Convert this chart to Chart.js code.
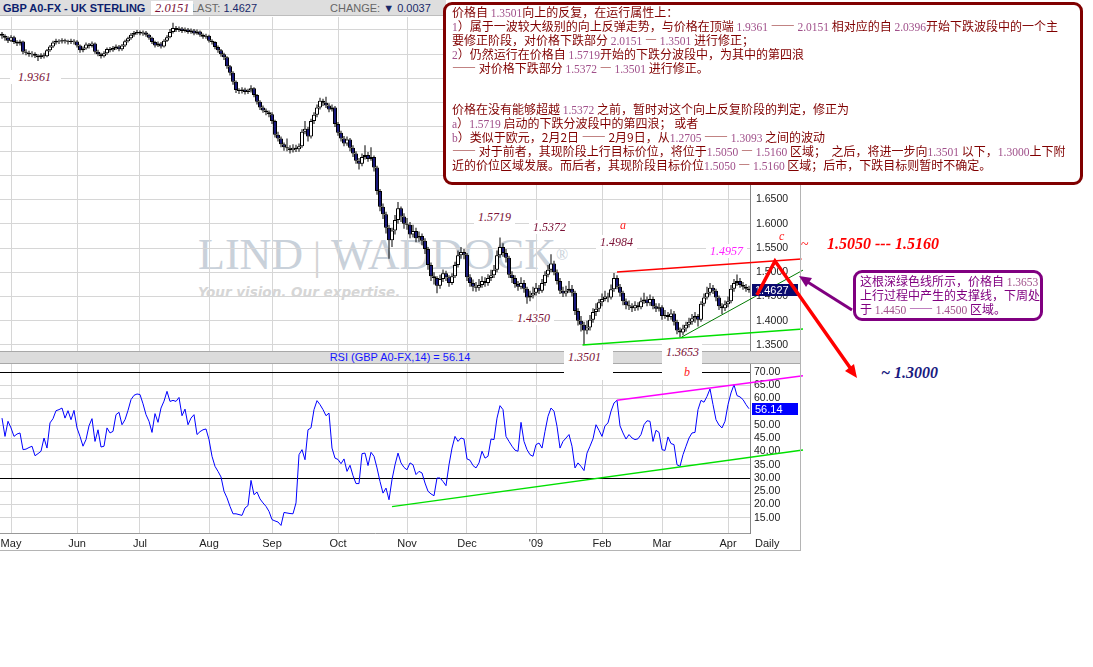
<!DOCTYPE html>
<html lang="zh">
<head>
<meta charset="utf-8">
<title>GBP A0-FX - UK STERLING</title>
<script src="https://cdn.jsdelivr.net/npm/chart.js@4.4.1/dist/chart.umd.min.js"></script>
<style>
  html, body { margin: 0; padding: 0; background: #fff; }
  body { width: 1093px; height: 667px; position: relative; overflow: hidden; font-family: "Liberation Sans", Arial, sans-serif; }
  .abs { position: absolute; }
  .lbl { position: absolute; font: italic 12px "Liberation Serif", "Times New Roman", serif; color: #7b1136; background: #fff; line-height: 14px; padding: 0 4px; white-space: nowrap; }
  .note { position: absolute; box-sizing: border-box; background: #fff; font: 12px "Noto Sans CJK SC", sans-serif; white-space: nowrap; }
  .note div { height: 13.9px; line-height: 13.9px; overflow: visible; }
  .n { font-family: "Liberation Serif", "Times New Roman", serif; font-size: 11.5px; color: #a0508a; }
</style>
</head>
<body>

<!-- watermark, behind the charts -->
<div class="abs" style="left:198px;top:233px;font:44px 'Liberation Serif',serif;line-height:44px;color:#c9d1da;white-space:nowrap">LIND<span style="color:#d4d4d4;font-size:40px"> | </span>WADDOCK<span style="font-size:16px;vertical-align:top">&reg;</span></div>
<div class="abs" style="left:198px;top:284px;font:italic bold 13.5px 'DejaVu Sans',sans-serif;color:#d6d6d6;white-space:nowrap">Your vision. Our expertise.</div>

<div class="abs" style="left:0;top:17px;width:810px;height:334px"><canvas id="price"></canvas></div>

<div class="abs" style="left:0;top:351px;width:800px;height:11px;background:#dcdcdc;border-top:1px solid #a8a8a8;border-bottom:1px solid #a8a8a8;font:11px 'Liberation Sans',Arial;line-height:11px;color:#1414ff;text-align:center">RSI (GBP A0-FX,14) = 56.14</div>

<div class="abs" style="left:0;top:364px;width:810px;height:186px"><canvas id="rsi"></canvas></div>

<div class="abs" style="left:800px;top:17px;width:1px;height:533px;background:#b4b4b4"></div>
<div class="abs" style="left:0;top:550px;width:801px;height:1px;background:#b4b4b4"></div>
<div class="abs" style="left:755px;top:537px;font:11px 'Liberation Sans',Arial;color:#222">Daily</div>

<!-- header -->
<div class="abs" style="left:0;top:0;width:446px;height:15px;background:#dedede;border-bottom:1px solid #bdbdbd"></div>
<div class="abs" style="left:3px;top:1px;font:bold 11px 'Liberation Sans',Arial;line-height:14px;color:#0c1f6e;white-space:nowrap">GBP A0-FX - UK STERLING</div>
<div class="abs" style="left:191px;top:2px;font:11px 'Liberation Sans',Arial;line-height:13px;white-space:nowrap"><span style="color:#666">LAST:</span> <span style="color:#1a2a6a">1.4627</span></div>
<div class="abs" style="left:330px;top:2px;font:11px 'Liberation Sans',Arial;line-height:13px;white-space:nowrap"><span style="color:#666">CHANGE:</span> <span style="color:#1a2a6a">&#9660; 0.0037</span></div>
<div class="lbl" style="left:151px;top:1px;font-size:12.5px">2.0151</div>

<!-- price labels -->
<div class="lbl" style="left:10px;top:70px;padding:0 10px 0 8px">1.9361</div>
<div class="lbl" style="left:474px;top:210px">1.5719</div>
<div class="lbl" style="left:529px;top:220px">1.5372</div>
<div class="lbl" style="left:596px;top:235px">1.4984</div>
<div class="lbl" style="left:706px;top:244px;color:#ff22ff">1.4957</div>
<div class="lbl" style="left:513px;top:311px">1.4350</div>
<div class="lbl" style="left:564px;top:350px;width:41px;height:30px">1.3501</div>
<div class="lbl" style="left:662px;top:340px;width:32px;height:35px;padding-top:5px">1.3653</div>
<div class="lbl" style="left:680px;top:365px;color:#ff2020;background:transparent">b</div>
<div class="lbl" style="left:616px;top:218px;color:#ff2020;background:transparent">a</div>
<div class="lbl" style="left:775px;top:229px;color:#ff2020;background:transparent">c</div>

<div class="abs" style="left:801px;top:237px;font:14px 'Liberation Serif',serif;color:#ff0000">~</div>
<div class="abs" style="left:827px;top:235px;font:italic bold 16px 'Liberation Serif',serif;color:#ff0000;white-space:nowrap">1.5050 --- 1.5160</div>
<div class="abs" style="left:881px;top:364px;font:italic bold 16px 'Liberation Serif',serif;color:#1a1a80;white-space:nowrap">~ 1.3000</div>

<!-- arrows -->
<svg class="abs" style="left:0;top:0" width="1093" height="667">
  <polyline points="757,295 775,261 851,369" fill="none" stroke="#ff0000" stroke-width="3.5" stroke-linejoin="miter"/>
  <polygon points="857,378 845,371 854,364" fill="#ff0000"/>
  <line x1="852" y1="310" x2="806" y2="281" stroke="#800080" stroke-width="3"/>
  <polygon points="799,276 812,278 806,287" fill="#800080"/>
</svg>

<!-- notes -->
<div class="note" style="left:443px;top:2px;width:640px;height:183px;border:3px solid #800000;border-radius:9px;padding-left:6px;color:#800000">
<div>价格自 <span class="n">1.3501</span>向上的反复，在运行属性上：</div>
<div><span class="n">1</span>）属于一波较大级别的向上反弹走势，与价格在顶端 <span class="n">1.9361</span> —— <span class="n">2.0151</span> 相对应的自 <span class="n">2.0396</span>开始下跌波段中的一个主</div>
<div>要修正阶段，对价格下跌部分 <span class="n">2.0151</span> — <span class="n">1.3501</span> 进行修正；</div>
<div><span class="n">2</span>）仍然运行在价格自 <span class="n">1.5719</span>开始的下跌分波段中，为其中的第四浪</div>
<div>—— 对价格下跌部分 <span class="n">1.5372</span> — <span class="n">1.3501</span> 进行修正。</div>
<div></div>
<div></div>
<div>价格在没有能够超越 <span class="n">1.5372</span> 之前，暂时对这个向上反复阶段的判定，修正为</div>
<div><span class="n">a</span>）<span class="n">1.5719</span> 启动的下跌分波段中的第四浪；&nbsp;或者</div>
<div><span class="n">b</span>）类似于欧元，2月2日 —— 2月9日，从<span class="n">1.2705</span> —— <span class="n">1.3093</span> 之间的波动</div>
<div>—— 对于前者，其现阶段上行目标价位，将位于<span class="n">1.5050</span> — <span class="n">1.5160</span> 区域；&nbsp;&nbsp;之后，将进一步向<span class="n">1.3501</span> 以下，<span class="n">1.3000</span>上下附</div>
<div>近的价位区域发展。而后者，其现阶段目标价位<span class="n">1.5050</span> — <span class="n">1.5160</span> 区域；后市，下跌目标则暂时不确定。</div>
</div>

<div class="note" style="left:853px;top:270px;width:190px;height:51px;border:3px solid #800080;border-radius:9px;padding:1px 0 0 4px;color:#800080">
<div style="height:14px;line-height:14px">这根深绿色线所示，价格自 <span class="n">1.3653</span></div>
<div style="height:14px;line-height:14px">上行过程中产生的支撑线，下周处</div>
<div style="height:14px;line-height:14px">于 <span class="n">1.4450</span> —— <span class="n">1.4500</span> 区域。</div>
</div>

<script>
// trading-day index of the first bar of each month
const monthIdx = [3, 25, 46, 69, 90, 112, 135, 155, 178, 200, 220, 242];
const monthNames = ["May", "Jun", "Jul", "Aug", "Sep", "Oct", "Nov", "Dec", "'09", "Feb", "Mar", "Apr"];
const priceTicks = [1.35, 1.40, 1.45, 1.50, 1.55, 1.60, 1.65, 1.70, 1.75, 1.80, 1.85, 1.90, 1.95, 2.00];
const rsiTicks = [15, 20, 25, 30, 35, 40, 45, 50, 55, 60, 65, 70];

const opens = [
  1.992,1.988,1.984,1.978,1.985,1.975,1.972,1.976,1.955,1.953,
  1.950,1.951,1.947,1.944,1.948,1.946,1.958,1.966,1.974,1.978,
  1.976,1.979,1.977,1.975,1.978,1.976,1.968,1.958,1.962,1.970,
  1.967,1.972,1.955,1.950,1.946,1.952,1.961,1.958,1.963,1.966,
  1.960,1.968,1.977,1.983,1.990,1.994,1.996,1.993,1.995,1.990,
  1.984,1.975,1.968,1.972,1.966,1.978,1.985,1.996,2.004,2.000,
  2.003,1.998,2.001,1.996,1.999,1.993,1.997,1.990,1.986,1.988,
  1.978,1.975,1.965,1.958,1.950,1.944,1.925,1.912,1.893,1.876,
  1.874,1.877,1.872,1.875,1.880,1.866,1.852,1.840,1.834,1.830,
  1.826,1.812,1.784,1.776,1.764,1.758,1.756,1.752,1.757,1.754,
  1.760,1.790,1.796,1.780,1.812,1.825,1.840,1.854,1.850,1.844,
  1.836,1.840,1.806,1.788,1.776,1.766,1.774,1.757,1.745,1.730,
  1.724,1.738,1.742,1.734,1.738,1.716,1.668,1.635,1.620,1.592,
  1.566,1.586,1.608,1.632,1.615,1.600,1.598,1.578,1.585,1.570,
  1.575,1.565,1.548,1.515,1.492,1.488,1.472,1.486,1.498,1.490,
  1.478,1.492,1.515,1.535,1.542,1.536,1.490,1.478,1.470,1.468,
  1.474,1.482,1.478,1.488,1.494,1.505,1.535,1.552,1.540,1.530,
  1.495,1.488,1.476,1.470,1.478,1.466,1.448,1.452,1.458,1.468,
  1.462,1.478,1.495,1.505,1.518,1.500,1.482,1.462,1.456,1.462,
  1.466,1.458,1.420,1.400,1.392,1.380,1.386,1.402,1.418,1.425,
  1.438,1.445,1.450,1.448,1.465,1.488,1.470,1.458,1.440,1.432,
  1.430,1.426,1.432,1.428,1.440,1.444,1.436,1.445,1.430,1.425,
  1.428,1.410,1.412,1.408,1.415,1.398,1.380,1.376,1.384,1.392,
  1.398,1.405,1.410,1.402,1.435,1.448,1.458,1.468,1.462,1.448,
  1.430,1.426,1.434,1.440,1.466,1.478,1.482,1.474,1.470,1.466
];
const highs = [
  1.996,1.991,1.987,1.989,1.988,1.979,1.980,1.978,1.960,1.957,
  1.956,1.954,1.950,1.952,1.953,1.961,1.969,1.978,1.982,1.981,
  1.983,1.982,1.980,1.982,1.981,1.979,1.970,1.966,1.974,1.973,
  1.976,1.974,1.959,1.953,1.956,1.964,1.965,1.967,1.970,1.969,
  1.971,1.980,1.986,1.994,1.998,2.000,1.999,1.999,1.998,1.992,
  1.986,1.978,1.976,1.975,1.981,1.989,2.002,2.0151,2.008,2.007,
  2.006,2.005,2.004,2.003,2.002,2.001,1.999,1.993,1.992,1.990,
  1.981,1.977,1.968,1.961,1.953,1.946,1.928,1.915,1.896,1.880,
  1.882,1.881,1.879,1.886,1.882,1.868,1.855,1.844,1.838,1.834,
  1.830,1.815,1.790,1.780,1.768,1.776,1.762,1.764,1.763,1.766,
  1.795,1.812,1.800,1.817,1.830,1.846,1.860,1.858,1.862,1.849,
  1.846,1.843,1.810,1.792,1.781,1.780,1.777,1.762,1.750,1.736,
  1.745,1.762,1.748,1.758,1.741,1.720,1.672,1.642,1.625,1.598,
  1.592,1.618,1.645,1.636,1.622,1.612,1.604,1.598,1.592,1.584,
  1.580,1.570,1.552,1.520,1.500,1.492,1.495,1.506,1.503,1.494,
  1.498,1.522,1.545,1.552,1.548,1.540,1.496,1.485,1.480,1.486,
  1.492,1.490,1.496,1.505,1.515,1.545,1.5719,1.560,1.548,1.534,
  1.502,1.494,1.482,1.490,1.484,1.470,1.462,1.470,1.478,1.474,
  1.486,1.502,1.515,1.5372,1.524,1.506,1.488,1.470,1.472,1.482,
  1.474,1.462,1.426,1.410,1.398,1.400,1.412,1.426,1.436,1.445,
  1.456,1.462,1.458,1.475,1.4984,1.494,1.476,1.462,1.446,1.442,
  1.436,1.440,1.438,1.448,1.458,1.450,1.454,1.450,1.436,1.436,
  1.432,1.422,1.418,1.424,1.420,1.402,1.386,1.392,1.398,1.406,
  1.414,1.418,1.414,1.440,1.456,1.470,1.478,1.474,1.466,1.452,
  1.436,1.442,1.450,1.474,1.486,1.4957,1.488,1.480,1.476,1.472
];
const lows = [
  1.982,1.978,1.973,1.975,1.971,1.967,1.968,1.950,1.948,1.945,
  1.944,1.942,1.9361,1.940,1.941,1.944,1.955,1.963,1.970,1.971,
  1.972,1.972,1.970,1.971,1.970,1.964,1.953,1.954,1.959,1.962,
  1.964,1.951,1.946,1.941,1.943,1.949,1.954,1.955,1.959,1.956,
  1.957,1.965,1.974,1.980,1.986,1.990,1.989,1.988,1.986,1.980,
  1.971,1.964,1.965,1.962,1.964,1.975,1.983,1.993,1.996,1.996,
  1.994,1.995,1.992,1.992,1.989,1.990,1.986,1.982,1.982,1.974,
  1.970,1.960,1.953,1.945,1.938,1.920,1.906,1.887,1.870,1.868,
  1.869,1.867,1.868,1.871,1.861,1.846,1.835,1.829,1.824,1.820,
  1.806,1.778,1.770,1.758,1.751,1.750,1.745,1.747,1.748,1.749,
  1.757,1.785,1.770,1.776,1.806,1.820,1.836,1.843,1.839,1.830,
  1.832,1.800,1.782,1.770,1.760,1.761,1.750,1.738,1.724,1.712,
  1.719,1.733,1.728,1.730,1.708,1.660,1.626,1.610,1.580,1.528,
  1.552,1.578,1.600,1.604,1.590,1.588,1.570,1.572,1.562,1.563,
  1.556,1.538,1.505,1.482,1.475,1.457,1.466,1.480,1.482,1.470,
  1.474,1.488,1.510,1.528,1.527,1.482,1.470,1.461,1.460,1.462,
  1.468,1.470,1.472,1.482,1.488,1.500,1.530,1.532,1.520,1.488,
  1.478,1.468,1.462,1.465,1.458,1.4350,1.440,1.446,1.452,1.455,
  1.458,1.472,1.490,1.500,1.494,1.475,1.455,1.449,1.450,1.458,
  1.450,1.412,1.390,1.378,1.3501,1.372,1.380,1.396,1.410,1.418,
  1.430,1.440,1.438,1.444,1.460,1.465,1.450,1.432,1.424,1.422,
  1.418,1.420,1.421,1.424,1.435,1.430,1.431,1.424,1.418,1.419,
  1.402,1.404,1.400,1.402,1.390,1.372,1.3653,1.370,1.378,1.386,
  1.392,1.396,1.388,1.398,1.430,1.444,1.452,1.455,1.440,1.422,
  1.414,1.420,1.428,1.436,1.460,1.472,1.468,1.464,1.460,1.458
];
const closes = [
  1.988,1.984,1.978,1.985,1.975,1.972,1.976,1.955,1.953,1.950,
  1.951,1.947,1.944,1.948,1.946,1.958,1.966,1.974,1.978,1.976,
  1.979,1.977,1.975,1.978,1.976,1.968,1.958,1.962,1.970,1.967,
  1.972,1.955,1.950,1.946,1.952,1.961,1.958,1.963,1.966,1.960,
  1.968,1.977,1.983,1.990,1.994,1.996,1.993,1.995,1.990,1.984,
  1.975,1.968,1.972,1.966,1.978,1.985,1.996,2.004,2.000,2.003,
  1.998,2.001,1.996,1.999,1.993,1.997,1.990,1.986,1.988,1.978,
  1.975,1.965,1.958,1.950,1.944,1.925,1.912,1.893,1.876,1.874,
  1.877,1.872,1.875,1.880,1.866,1.852,1.840,1.834,1.830,1.826,
  1.812,1.784,1.776,1.764,1.758,1.756,1.752,1.757,1.754,1.760,
  1.790,1.796,1.780,1.812,1.825,1.840,1.854,1.850,1.844,1.836,
  1.840,1.806,1.788,1.776,1.766,1.774,1.757,1.745,1.730,1.724,
  1.738,1.742,1.734,1.738,1.716,1.668,1.635,1.620,1.592,1.566,
  1.586,1.608,1.632,1.615,1.600,1.598,1.578,1.585,1.570,1.575,
  1.565,1.548,1.515,1.492,1.488,1.472,1.486,1.498,1.490,1.478,
  1.492,1.515,1.535,1.542,1.536,1.490,1.478,1.470,1.468,1.474,
  1.482,1.478,1.488,1.494,1.505,1.535,1.552,1.540,1.530,1.495,
  1.488,1.476,1.470,1.478,1.466,1.448,1.452,1.458,1.468,1.462,
  1.478,1.495,1.505,1.518,1.500,1.482,1.462,1.456,1.462,1.466,
  1.458,1.420,1.400,1.392,1.380,1.386,1.402,1.418,1.425,1.438,
  1.445,1.450,1.448,1.465,1.488,1.470,1.458,1.440,1.432,1.430,
  1.426,1.432,1.428,1.440,1.444,1.436,1.445,1.430,1.425,1.428,
  1.410,1.412,1.408,1.415,1.398,1.380,1.376,1.384,1.392,1.398,
  1.405,1.410,1.402,1.435,1.448,1.458,1.468,1.462,1.448,1.430,
  1.426,1.434,1.440,1.466,1.478,1.482,1.474,1.470,1.466,1.4627
];
const rsi = [
  52.6,45.7,51.4,48.9,45.7,46.6,47.0,40.7,40.9,41.5,
  42.0,38.4,39.2,40.1,45.1,41.3,50.8,52.4,55.4,55.8,
  56.4,52.6,55.4,52.0,55.5,48.9,45.7,42.0,44.5,49.7,
  52.4,43.8,48.2,41.7,42.0,48.9,47.0,47.6,53.9,54.8,
  50.1,52.0,55.5,59.6,61.2,61.7,61.5,58.0,53.9,51.4,
  47.2,54.3,51.0,56.4,59.0,62.7,58.9,59.3,58.9,60.4,
  53.5,56.0,50.1,52.6,53.9,46.4,47.5,48.2,48.5,44.5,
  38.2,34.4,32.5,30.4,25.0,22.5,19.3,16.5,16.5,16.2,
  15.9,18.7,19.6,29.1,23.7,24.7,22.1,20.6,19.3,17.4,
  14.3,13.8,13.4,12.1,17.0,16.8,16.6,16.5,20.6,38.8,
  40.7,36.9,48.2,48.9,55.8,59.2,57.7,55.8,53.5,54.5,
  41.3,37.5,37.0,35.4,37.2,32.5,34.8,30.9,27.9,27.9,
  39.2,39.4,34.7,39.7,38.2,33.8,28.7,24.3,26.2,21.8,
  29.4,35.0,39.4,35.7,34.0,33.1,35.7,35.0,31.3,32.5,
  31.9,28.1,25.0,24.0,23.3,30.0,30.0,28.7,27.1,35.0,
  41.3,45.7,43.8,45.1,44.7,37.2,36.7,34.7,33.8,35.7,
  40.1,37.5,38.2,44.7,44.5,52.6,57.3,55.8,45.7,43.8,
  42.0,40.5,40.1,51.0,43.8,40.7,38.8,38.2,42.6,43.2,
  41.3,47.6,53.3,56.4,55.2,49.5,41.3,43.8,45.1,46.4,
  42.0,33.8,35.7,34.4,32.8,39.4,42.0,44.8,50.1,48.0,
  45.7,49.7,50.8,55.2,58.3,59.3,49.7,47.0,44.7,46.4,
  45.1,44.5,44.8,46.4,50.1,51.6,51.4,43.8,48.0,47.2,
  40.7,40.4,45.5,43.0,42.6,35.0,34.4,38.8,42.0,45.1,
  47.0,47.2,55.8,59.3,58.6,60.8,63.6,57.7,52.0,50.0,
  48.9,51.4,57.7,62.1,65.2,61.1,60.6,59.6,57.7,56.14
];

// trend lines drawn on the chart: [bar index, value] end points
const resistLine = [[205, 1.5005], [266.5, 1.5275]];
const supportLine = [[226.5, 1.3662], [267, 1.5045]];
const baseLine = [[193.5, 1.3500], [267, 1.3830]];
const rsiTopLine = [[205, 59.3], [267, 68.6]];
const rsiLowLine = [[130, 19.2], [267, 40.6]];

const idx = closes.map((_, i) => i);
const GRID = "#d6d6d6";
const TICKFONT = { family: "'Liberation Sans', Arial, sans-serif", size: 10.5 };
// x range chosen so every bar centre lands on a whole pixel (3 px per day)
const X_MIN = -2 / 3;
const X_MAX = 249 + 1 / 3;

const trend = (pts, color, width) => ({
  type: "line",
  data: pts.map(([x, y]) => ({ x, y })),
  borderColor: color,
  borderWidth: width,
  pointRadius: 0,
  tension: 0,
  clip: false,
});

// coloured value tag on the right axis
const tagPlugin = (value, text, bg) => ({
  id: "tag",
  afterDatasetsDraw(chart) {
    const { ctx, chartArea, scales } = chart;
    const y = Math.round(scales.y.getPixelForValue(value));
    ctx.save();
    ctx.fillStyle = bg;
    ctx.fillRect(chartArea.right + 2, y - 6, 46, 12);
    ctx.fillStyle = "#fff";
    ctx.font = "11px 'Liberation Sans', Arial";
    ctx.textBaseline = "middle";
    ctx.fillText(text, chartArea.right + 5, y + 0.5);
    ctx.restore();
  },
});

const noPad = (s) => {
  s.paddingTop = 0; s.paddingBottom = 0; s.paddingLeft = 0; s.paddingRight = 0;
};

const xScale = (showLabels) => ({
  type: "linear",
  min: X_MIN,
  max: X_MAX,
  offset: false,
  afterBuildTicks: (s) => { s.ticks = monthIdx.map((v) => ({ value: v })); },
  afterFit: (s) => { noPad(s); s.height = showLabels ? 17 : 0; },
  ticks: {
    display: showLabels,
    autoSkip: false,
    maxRotation: 0,
    padding: 4,
    color: "#222",
    font: { family: TICKFONT.family, size: 11 },
    callback: (v, i) => monthNames[i],
  },
  grid: { color: GRID, drawTicks: false, offset: false },
  border: { display: showLabels, color: "#999" },
});

new Chart(document.getElementById("price"), {
  type: "bar",
  data: {
    datasets: [
      trend(resistLine, "#ff0000", 1.5),
      trend(supportLine, "#007a00", 1),
      trend(baseLine, "#00e000", 1.5),
      {
        label: "body",
        data: idx.map((i) => ({ x: i, y: [opens[i], closes[i]] })),
        backgroundColor: idx.map((i) => (closes[i] >= opens[i] ? "#ffffff" : "#17177a")),
        borderColor: "#000",
        borderWidth: 1,
        borderSkipped: false,
        barThickness: 4,
        grouped: false,
        inflateAmount: 0,
      },
      {
        label: "wick",
        data: idx.map((i) => ({ x: i, y: [lows[i], highs[i]] })),
        backgroundColor: "#000",
        borderWidth: 0,
        barThickness: 1,
        grouped: false,
        inflateAmount: 0,
      },
    ],
  },
  options: {
    animation: false,
    responsive: true,
    maintainAspectRatio: false,
    layout: { padding: { right: 10 } },
    plugins: { legend: { display: false }, tooltip: { enabled: false } },
    scales: {
      x: xScale(false),
      y: {
        position: "right",
        min: 1.3376,
        max: 2.0268,
        beginAtZero: false,
        afterBuildTicks: (s) => { s.ticks = priceTicks.map((v) => ({ value: v })); },
        afterFit: (s) => { noPad(s); s.width = 50; },
        ticks: { color: "#222", font: TICKFONT, padding: 6, autoSkip: false, callback: (v) => v.toFixed(4) },
        grid: { color: GRID, drawTicks: false },
        border: { color: "#888" },
      },
    },
  },
  plugins: [tagPlugin(closes[closes.length - 1], closes[closes.length - 1].toFixed(4), "#0a0a6e")],
});

new Chart(document.getElementById("rsi"), {
  type: "line",
  data: {
    datasets: [
      trend(rsiTopLine, "#ff00ff", 1.5),
      trend(rsiLowLine, "#00e000", 1.5),
      {
        label: "RSI",
        data: idx.map((i) => ({ x: i, y: rsi[i] })),
        borderColor: "#0000ff",
        borderWidth: 1,
        pointRadius: 0,
        tension: 0,
      },
    ],
  },
  options: {
    animation: false,
    responsive: true,
    maintainAspectRatio: false,
    layout: { padding: { right: 10 } },
    plugins: { legend: { display: false }, tooltip: { enabled: false } },
    scales: {
      x: xScale(true),
      y: {
        position: "right",
        min: 9.25,
        max: 73.02,
        afterBuildTicks: (s) => { s.ticks = rsiTicks.map((v) => ({ value: v })); },
        afterFit: (s) => { noPad(s); s.width = 50; },
        ticks: { color: "#222", font: TICKFONT, padding: 4, autoSkip: false, callback: (v) => v.toFixed(2) },
        grid: {
          color: (c) => (c.tick && (c.tick.value === 30 || c.tick.value === 70) ? "#000" : GRID),
          drawTicks: false,
        },
        border: { color: "#888" },
      },
    },
  },
  plugins: [tagPlugin(rsi[rsi.length - 1], rsi[rsi.length - 1].toFixed(2), "#0000ff")],
});
</script>
</body>
</html>
